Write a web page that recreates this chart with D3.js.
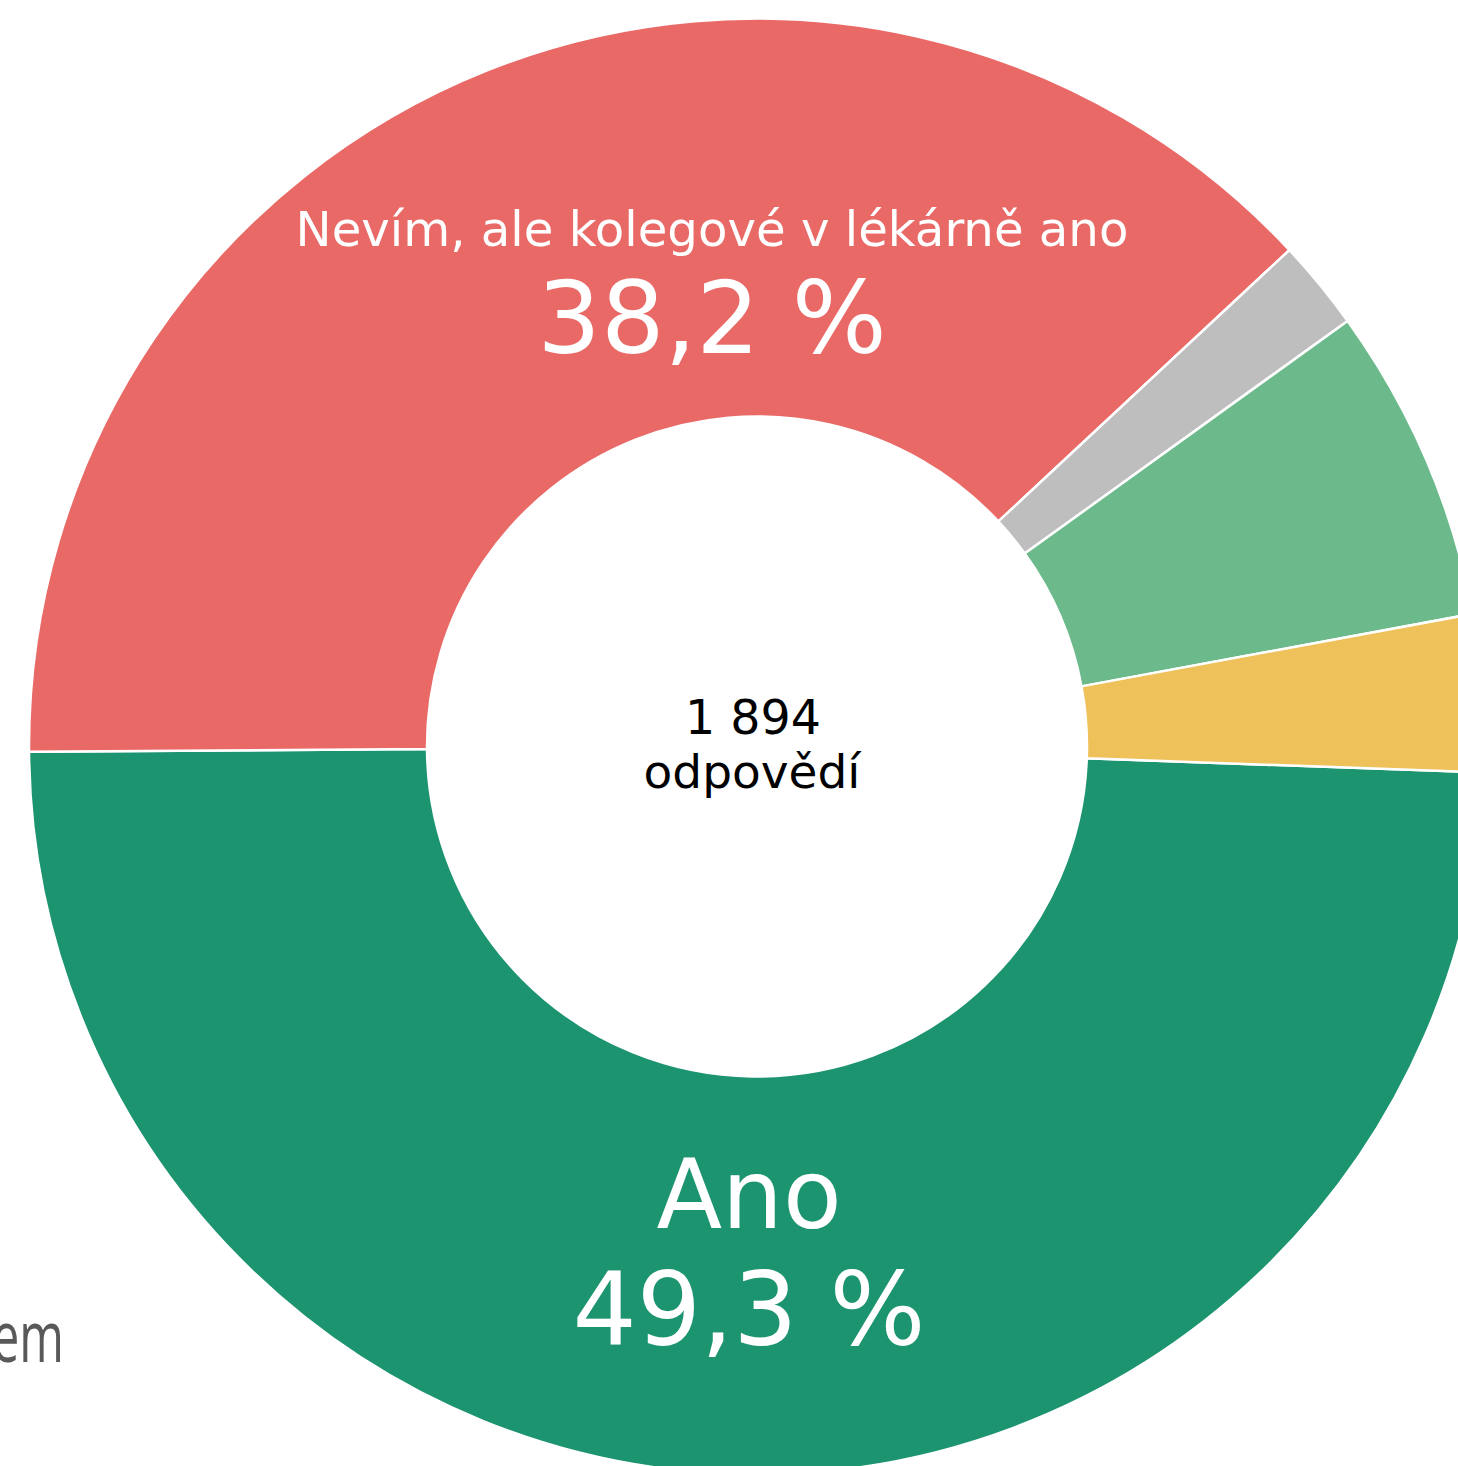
<!DOCTYPE html>
<html>
<head>
<meta charset="utf-8">
<script src="https://cdn.jsdelivr.net/npm/d3@7"></script>
<style>
  html, body { margin: 0; padding: 0; background: #fff; overflow: hidden; }
  svg { display: block; font-family: "DejaVu Sans", Verdana, sans-serif; }
</style>
</head>
<body>
<svg id="chart"></svg>
<script>
// ── Data ─────────────────────────────────────────────────────────────
const categories = ["Ano", "Nevím, ale kolegové v lékárně ano", "Nevím", "Ne", "Jiná odpověď"];
const counts     = [934, 723, 38, 133, 66];
const colors     = ["#1d9470", "#e96967", "#bebebe", "#6cba8b", "#eec15a"];
const totalLabel = ["1 894", "odpovědí"];

const W = 1458, H = 1466;
const cx = 757, cy = 746.5;
const rOuter = 728, rInner = 330;

const svg = d3.select("#chart").attr("width", W).attr("height", H);

const data = categories.map((c, i) => ({ label: c, value: counts[i], color: colors[i] }));
const total = d3.sum(counts);

// ── Pie ──────────────────────────────────────────────────────────────
const start = 92.05 * Math.PI / 180;
const pie = d3.pie().value(d => d.value).sort(null)
    .startAngle(start).endAngle(start + 2 * Math.PI);
const arc = d3.arc().innerRadius(rInner).outerRadius(rOuter);

const g = svg.append("g").attr("transform", `translate(${cx},${cy})`);
const arcs = pie(data);

g.selectAll("path")
    .data(arcs)
    .enter().append("path")
    .attr("d", arc)
    .attr("fill", d => d.data.color)
    .attr("stroke", "#fff").attr("stroke-width", 2.5);

// ── Slice labels (only the two large slices carry text) ─────────────
const fmtPct = v => d3.format(".1f")(v * 100).replace(".", ",") + " %";
const labelPos = {
    0: { dx: -8,  y1: 481.5, y2: 598.5, s1: 96, s2: 101 },
    1: { dx: -45, y1: -500.5, y2: -393.5, s1: 48.2, s2: 100 }
};
arcs.forEach((a, i) => {
    const p = labelPos[i];
    if (!p) return;
    g.append("text")
        .attr("x", p.dx).attr("y", p.y1)
        .attr("text-anchor", "middle").attr("fill", "#fff")
        .attr("font-size", p.s1)
        .text(a.data.label);
    g.append("text")
        .attr("x", p.dx).attr("y", p.y2)
        .attr("text-anchor", "middle").attr("fill", "#fff")
        .attr("font-size", p.s2)
        .text(fmtPct(a.data.value / total));
});

// ── Centre text ──────────────────────────────────────────────────────
g.append("text").attr("x", -4).attr("y", -12.5)
    .attr("text-anchor", "middle").attr("fill", "#000").attr("font-size", 47.5)
    .text(totalLabel[0]);
g.append("text").attr("x", -5).attr("y", 41.5)
    .attr("text-anchor", "middle").attr("fill", "#000").attr("font-size", 47)
    .text(totalLabel[1]);

// ── Cropped legend fragment at bottom left ──────────────────────────
svg.append("text")
    .attr("transform", "translate(64,1362) scale(0.67,1)")
    .attr("text-anchor", "end").attr("fill", "#595959")
    .attr("font-family", "'Open Sans', sans-serif").attr("font-size", 72)
    .text("em");
</script>
</body>
</html>
